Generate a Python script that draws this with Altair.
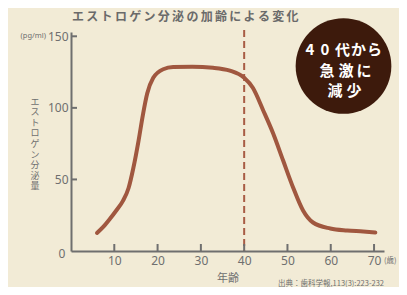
import altair as alt
import pandas as pd

# ---- data ----
ages = [6, 7.5, 9, 10.5, 12, 13.3, 14.4, 15.6, 16.6, 17.6, 19, 21.3, 23.6, 28, 32.8,
        36.7, 40, 42, 44.4, 46.7, 49, 51.3, 53.6, 55.9, 59.9, 63.8, 67.5, 70.3]
estrogen = [12.6, 17, 22.5, 28.5, 35, 44, 58, 77, 95, 110, 121, 127, 128.5, 128.7, 128,
            126, 121, 114, 98.2, 82.1, 63.2, 44.4, 28.3, 19.9, 15.7, 14.3, 13.6, 12.9]
x_ticks = [10, 20, 30, 40, 50, 60, 70]
y_ticks = [50, 100, 150]
marker_age = 40

title_text = "エストロゲン分泌の加齢による変化"
ytitle_text = "エストロゲン分泌量"
badge_lines = ["40代から", "急激に", "減少"]
source_text = "出典：歯科学報,113(3):223-232"

W, H = 313, 219
OX, OY = 71, 32          # page position of the plot origin
GRAY = "#6f6f6f"
CURVE = "#a0573f"
JP = "Noto Sans CJK JP"

df = pd.DataFrame({"age": ages, "value": estrogen})
xs = alt.Scale(domain=[0, 72.3], nice=False, zero=False)
ys = alt.Scale(domain=[0, 153], nice=False)

curve = alt.Chart(df).mark_line(color=CURVE, strokeWidth=4, interpolate="monotone",
                                strokeCap="round").encode(
    x=alt.X("age:Q", scale=xs,
            axis=alt.Axis(values=x_ticks, ticks=False, grid=False, title=None,
                          domainColor=GRAY, domainWidth=2, labelColor=GRAY,
                          labelFont="Noto Sans", labelFontSize=12, labelPadding=4)),
    y=alt.Y("value:Q", scale=ys,
            axis=alt.Axis(values=y_ticks, ticks=False, grid=False, title=None,
                          domainColor=GRAY, domainWidth=2, labelColor=GRAY,
                          labelFont="Noto Sans", labelFontSize=12, labelPadding=3)),
)

xt = alt.Chart(pd.DataFrame({"t": x_ticks})).mark_rule(color=GRAY, strokeWidth=2).encode(
    x=alt.X("t:Q", scale=xs), y=alt.value(H - 7), y2=alt.value(H))
yt = alt.Chart(pd.DataFrame({"t": y_ticks})).mark_rule(color=GRAY, strokeWidth=2).encode(
    y=alt.Y("t:Q", scale=ys), x=alt.value(0), x2=alt.value(6))

dash = alt.Chart(pd.DataFrame({"a": [marker_age]})).mark_rule(
    color="#a85c45", strokeWidth=2, strokeDash=[7, 4]).encode(
    x=alt.X("a:Q", scale=xs), y=alt.value(-2), y2=alt.value(H))

one = alt.Data(values=[{}])


def label(txt, px, py, size, color=GRAY, align="center", baseline="middle",
          weight="normal", font=JP):
    """Text placed at page pixel position (px, py)."""
    return alt.Chart(one).mark_text(
        text=txt, fontSize=size, color=color, align=align, baseline=baseline,
        fontWeight=weight, font=font).encode(
        x=alt.value(px - OX), y=alt.value(py - OY))


def spaced(txt, centers_x, centers_y, size, **kw):
    return [label(c, x, y, size, **kw) for c, x, y in zip(txt, centers_x, centers_y)]


circle = alt.Chart(one).mark_circle(color="#3d1a0c", opacity=1, size=9160).encode(
    x=alt.value(343.5 - OX), y=alt.value(66 - OY))

layers = [dash, curve, xt, yt, circle]

# title, letter-spaced
n = len(title_text)
layers += spaced(title_text, [78 + i * 14.3 for i in range(n)], [16.5] * n, 12,
                 weight="bold", color="#6a6a6a")

# badge text
badge_x = [[310, 325, 342.5, 358.5, 374.5], [327, 346, 364], [335, 354]]
badge_y = [49.5, 71, 91]
for line, bx, by in zip(badge_lines, badge_x, badge_y):
    layers += spaced(line, bx, [by] * len(line), 15, color="white", weight="bold")

# vertical y title
m = len(ytitle_text)
layers += spaced(ytitle_text, [35] * m, [101.5 + i * 10.6 for i in range(m)], 9)

layers += [
    label("(pg/ml)", 46, 36, 7.5, align="right", font="Noto Sans"),
    label("0", 62, 254, 12, font="Noto Sans"),
    label("(歳)", 384, 261, 7.5, align="left"),
    label("年齢", 228, 279, 11),
    label(source_text, 384, 283.5, 7.5, align="right"),
]

chart = alt.layer(*layers).properties(
    width=W, height=H,
    autosize=alt.AutoSizeParams(type="none"),
    padding={"left": 63, "top": 24, "right": 15, "bottom": 36},
    background="#f2ebd6",
).configure_view(stroke=None)

chart.save("out.html", embed_options={"renderer": "svg", "actions": False})
